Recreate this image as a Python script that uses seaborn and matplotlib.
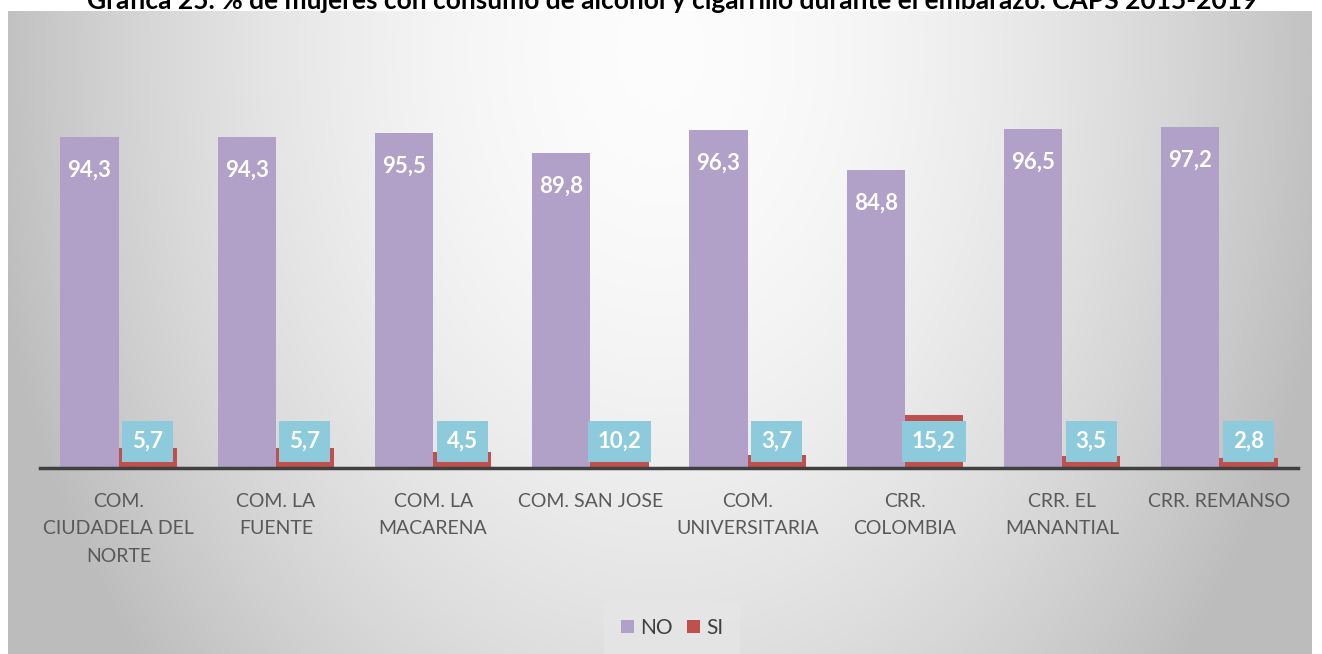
import matplotlib
matplotlib.use('Agg')
import matplotlib.pyplot as plt
import numpy as np
import pandas as pd
import seaborn as sns

categorias = ['COM.\nCIUDADELA DEL\nNORTE', 'COM. LA\nFUENTE', 'COM. LA\nMACARENA', 'COM. SAN JOSE',
              'COM.\nUNIVERSITARIA', 'CRR.\nCOLOMBIA', 'CRR. EL\nMANANTIAL', 'CRR. REMANSO']
no_vals = [94.3, 94.3, 95.5, 89.8, 96.3, 84.8, 96.5, 97.2]
si_vals = [5.7, 5.7, 4.5, 10.2, 3.7, 15.2, 3.5, 2.8]
titulo = 'Gráfica 25. % de mujeres con consumo de alcohol y cigarrillo durante el embarazo. CAPS 2015-2019'

df = pd.DataFrame({'cat': categorias * 2,
                   'valor': no_vals + si_vals,
                   'grupo': ['NO'] * 8 + ['SI'] * 8})

sns.set_theme(style='white')
plt.rcParams['font.family'] = ['Lato', 'DejaVu Sans']

W, H = 1322, 654
fig = plt.figure(figsize=(W / 100, H / 100), dpi=100)
fig.patch.set_facecolor('white')

# fondo degradado del panel (claro arriba al centro, gris hacia los bordes)
bg = fig.add_axes([8 / W, 0, (1312 - 8) / W, (H - 11) / H])
yy, xx = np.mgrid[0:H - 11:2, 0:1304:2]
d = np.sqrt(((xx - 652) / 652.0) ** 2 + ((yy - 40) / 900.0) ** 2)
g = np.clip(0.99 - 0.23 * d ** 1.8, 0.74, 1)
bg.imshow(np.dstack([g, g, g]), aspect='auto', interpolation='bilinear')
bg.axis('off')

ax = fig.add_axes([40 / W, (H - 468) / H, (1298 - 40) / W, (468 - 117) / H])
ax.patch.set_alpha(0)
sns.barplot(data=df, x='cat', y='valor', hue='grupo', palette={'NO': '#B1A0C7', 'SI': '#C0504D'},
            width=0.74, ax=ax, saturation=1, linewidth=0, legend=True)
ax.set_ylim(0, 100)
ax.set_xlim(-0.5, 7.5)
ax.set_xlabel('')
ax.set_ylabel('')
ax.set_yticks([])
for s in ['top', 'right', 'left']:
    ax.spines[s].set_visible(False)
ax.spines['bottom'].set_color('#404040')
ax.spines['bottom'].set_linewidth(2.5)
ax.tick_params(axis='x', length=0, pad=18, labelsize=14, labelcolor='#595959')
for t in ax.get_xticklabels():
    t.set_linespacing(1.75)
    t.set_verticalalignment('top')

no_bars = ax.containers[0]
si_bars = ax.containers[1]
for b, v in zip(no_bars, no_vals):
    ax.text(b.get_x() + b.get_width() / 2, v - 9.4, f'{v:.1f}'.replace('.', ','),
            ha='center', va='center', color='white', fontsize=16, fontweight='bold')
for b, v in zip(si_bars, si_vals):
    ax.text(b.get_x() + b.get_width() / 2, 7.6, f'{v:.1f}'.replace('.', ','),
            ha='center', va='center', color='white', fontsize=16, fontweight='bold', zorder=5,
            bbox=dict(boxstyle='square,pad=0.45', facecolor='#8DCADB', edgecolor='none'))

leg = ax.legend(loc='center', bbox_to_anchor=(672 / W, (H - 628) / H), bbox_transform=fig.transFigure,
                ncol=2, frameon=True, fontsize=15, handlelength=0.6, handleheight=0.6,
                handletextpad=0.3, columnspacing=0.7, borderpad=0.8)
leg.get_frame().set_facecolor('#e6e6e6')
leg.get_frame().set_edgecolor('none')
leg.get_frame().set_alpha(0.8)
for t in leg.get_texts():
    t.set_color('#404040')

fig.text(672 / W, 1 - 9 / H, titulo, ha='center', va='baseline', fontsize=19, fontweight='bold', color='black')

fig.savefig('out.png', dpi=100)
